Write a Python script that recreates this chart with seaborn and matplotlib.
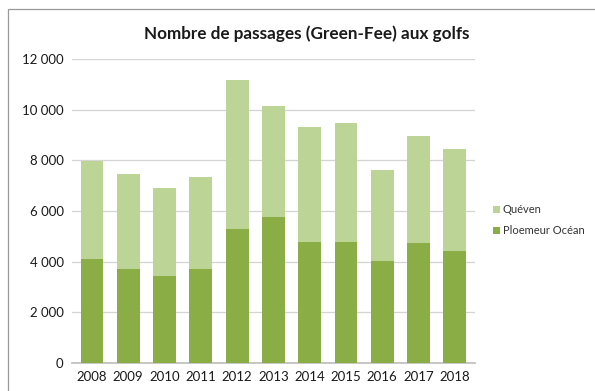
import matplotlib
matplotlib.use("Agg")
import matplotlib.pyplot as plt
import seaborn as sns
import pandas as pd
from matplotlib.ticker import FuncFormatter
from matplotlib.patches import Rectangle

# Données
annees = ['2008', '2009', '2010', '2011', '2012', '2013', '2014', '2015', '2016', '2017', '2018']
ploemeur = [4100, 3700, 3450, 3700, 5300, 5750, 4780, 4780, 4030, 4720, 4430]
queven = [3890, 3750, 3460, 3630, 5880, 4400, 4550, 4710, 3590, 4240, 4010]

sns.set_theme(style='white')
plt.rcParams['font.family'] = ['Lato', 'DejaVu Sans']

df = pd.DataFrame({'annee': annees, 'Ploemeur Océan': ploemeur, 'Quéven': queven})
df['total'] = df['Ploemeur Océan'] + df['Quéven']

fig = plt.figure(figsize=(5.95, 3.91), dpi=100)
ax = fig.add_axes([0.121, 0.072, 0.677, 0.777])

c_dark = '#8aad45'
c_light = '#bcd596'

sns.barplot(data=df, x='annee', y='total', color=c_light, width=0.63,
            saturation=1, ax=ax, label='Quéven', zorder=3, linewidth=0)
sns.barplot(data=df, x='annee', y='Ploemeur Océan', color=c_dark, width=0.63,
            saturation=1, ax=ax, label='Ploemeur Océan', zorder=3, linewidth=0)

ax.set_ylim(0, 12000)
ax.set_yticks(range(0, 12001, 2000))
ax.yaxis.set_major_formatter(FuncFormatter(lambda v, p: f"{int(v):,}".replace(',', ' ')))
ax.grid(axis='y', color='#d4d4d4', lw=0.9, zorder=0)
ax.set_axisbelow(True)
for s in ['left', 'right', 'top']:
    ax.spines[s].set_visible(False)
ax.spines['bottom'].set_color('#bfbfbf')
ax.tick_params(axis='both', length=0, labelsize=9.5, colors='#1a1a1a', pad=6)
ax.set_xlabel('')
ax.set_ylabel('')
ax.set_xlim(-0.55, 10.55)

fig.suptitle('Nombre de passages (Green-Fee) aux golfs', x=0.515, y=0.935,
             fontsize=12.3, fontweight='bold', color='#1a1a1a')

handles, labels = ax.get_legend_handles_labels()
ax.legend(handles, labels, loc='center left', bbox_to_anchor=(1.02, 0.47),
          frameon=False, fontsize=8, handlelength=0.6, handleheight=0.6,
          handletextpad=0.3, labelspacing=0.9, labelcolor='#333333')

# cadre autour du graphique
fig.patches.append(Rectangle((0.014, -0.02), 0.99, 0.997, transform=fig.transFigure,
                             fill=False, edgecolor='#9a9a9a', lw=0.9))

fig.savefig('out.png', dpi=100)
